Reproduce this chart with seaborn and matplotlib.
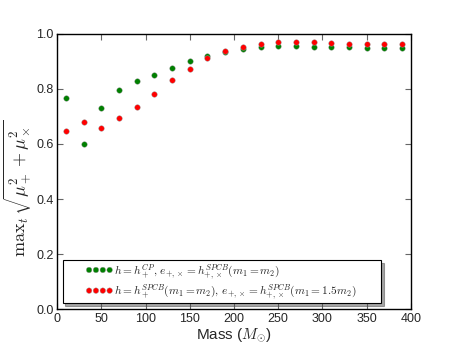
import numpy as np
import pandas as pd
import matplotlib
matplotlib.use("Agg")
import matplotlib.pyplot as plt
import seaborn as sns
from matplotlib.legend_handler import HandlerPathCollection

# masses
mass = [10, 30, 50, 70, 90, 110, 130, 150, 170, 190, 210,
        230, 250, 270, 290, 310, 330, 350, 370, 390]
# green series: h = h_+^CP
overlap_cp = [0.768, 0.600, 0.731, 0.797, 0.830, 0.851, 0.876, 0.902, 0.920, 0.933, 0.947,
              0.953, 0.956, 0.956, 0.954, 0.953, 0.951, 0.950, 0.950, 0.949]
# red series: h = h_+^SPCB
overlap_spcb = [0.648, 0.681, 0.658, 0.696, 0.736, 0.783, 0.834, 0.874, 0.912, 0.938, 0.954,
                0.965, 0.970, 0.970, 0.970, 0.966, 0.965, 0.965, 0.964, 0.962]

lab_cp = r"$h = h_+^{CP},\, e_{+,\times} = h_{+,\times}^{SPCB}(m_1 = m_2)$"
lab_spcb = r"$h = h_+^{SPCB}(m_1 = m_2),\, e_{+,\times} = h_{+,\times}^{SPCB}(m_1 = 1.5m_2)$"


# legend dots packed at the right end of the handle, like the old mpl look
class RightDots(HandlerPathCollection):
    def get_xdata(self, legend, xdescent, ydescent, width, height, fontsize):
        xs = np.linspace(-xdescent + width * 0.53, -xdescent + width * 0.97, 4)
        return xs, xs


sns.set_style("ticks")
plt.rcParams["font.family"] = ["Liberation Sans", "DejaVu Sans"]
plt.rcParams["mathtext.fontset"] = "cm"
plt.rcParams["xtick.direction"] = "in"
plt.rcParams["ytick.direction"] = "in"

df = pd.DataFrame({"mass": mass, "cp": overlap_cp, "spcb": overlap_spcb})

fig = plt.figure(figsize=(4.57, 3.43), dpi=100)
ax = fig.add_axes([0.125, 0.099, 0.774, 0.802])

sns.scatterplot(data=df, x="mass", y="cp", ax=ax, color=(0, 0.5, 0), s=16,
                edgecolor="0.6", linewidth=0.3, label=lab_cp)
sns.scatterplot(data=df, x="mass", y="spcb", ax=ax, color=(1, 0, 0), s=16,
                edgecolor="0.6", linewidth=0.3, label=lab_spcb)

ax.set_xlim(0, 400)
ax.set_ylim(0, 1.0)
ax.set_xticks(np.arange(0, 401, 50))
ax.set_yticks(np.arange(0, 1.01, 0.2))
ax.tick_params(top=True, right=True, labelsize=9, length=4, width=0.8,
               color="0.4", pad=2.5)
for s in ax.spines.values():
    s.set_visible(True)
    s.set_color("black")
    s.set_linewidth(1.0)

ax.set_xlabel(r"Mass ($M_{\odot}$)", fontsize=11, labelpad=1.5)
ax.set_ylabel(r"$\mathrm{max}_t\,\sqrt{\mu_+^2+\mu_\times^2}$", fontsize=13)
ax.yaxis.set_label_coords(-0.066, 0.44)

leg = ax.legend(loc="lower left", bbox_to_anchor=(0.0156, 0.022, 0.9, 0.1),
                mode="expand", borderaxespad=0, scatterpoints=4,
                fontsize=8.2, frameon=True, fancybox=False, shadow=True,
                handletextpad=0.25, borderpad=0.15, labelspacing=0.15,
                handlelength=4.1, scatteryoffsets=[0.5],
                handler_map={matplotlib.collections.PathCollection: RightDots()})
leg.get_frame().set_edgecolor("black")
leg.get_frame().set_linewidth(0.8)

fig.savefig("out.png", dpi=100)
